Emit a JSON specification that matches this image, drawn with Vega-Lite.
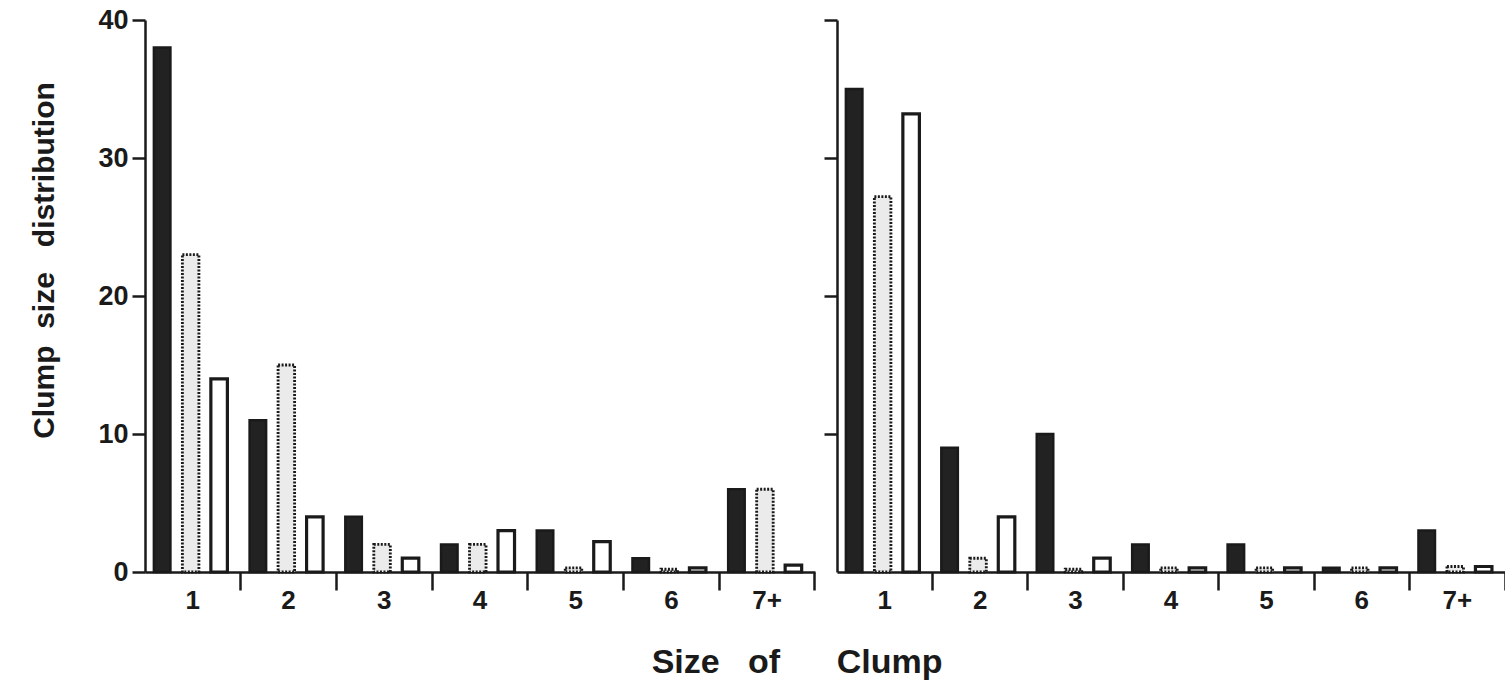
{
  "$schema": "https://vega.github.io/schema/vega-lite/v6.json",
  "background": "white",
  "padding": {"left": 29, "top": 6, "right": 0, "bottom": 2},
  "datasets": {
    "bars": [
      {"panel": "L", "size": "1", "series": "A", "value": 38},
      {"panel": "L", "size": "1", "series": "B", "value": 23},
      {"panel": "L", "size": "1", "series": "C", "value": 14},
      {"panel": "L", "size": "2", "series": "A", "value": 11},
      {"panel": "L", "size": "2", "series": "B", "value": 15},
      {"panel": "L", "size": "2", "series": "C", "value": 4},
      {"panel": "L", "size": "3", "series": "A", "value": 4},
      {"panel": "L", "size": "3", "series": "B", "value": 2},
      {"panel": "L", "size": "3", "series": "C", "value": 1},
      {"panel": "L", "size": "4", "series": "A", "value": 2},
      {"panel": "L", "size": "4", "series": "B", "value": 2},
      {"panel": "L", "size": "4", "series": "C", "value": 3},
      {"panel": "L", "size": "5", "series": "A", "value": 3},
      {"panel": "L", "size": "5", "series": "B", "value": 0.3},
      {"panel": "L", "size": "5", "series": "C", "value": 2.2},
      {"panel": "L", "size": "6", "series": "A", "value": 1},
      {"panel": "L", "size": "6", "series": "B", "value": 0.2},
      {"panel": "L", "size": "6", "series": "C", "value": 0.3},
      {"panel": "L", "size": "7+", "series": "A", "value": 6},
      {"panel": "L", "size": "7+", "series": "B", "value": 6},
      {"panel": "L", "size": "7+", "series": "C", "value": 0.5},
      {"panel": "R", "size": "1", "series": "A", "value": 35},
      {"panel": "R", "size": "1", "series": "B", "value": 27.2},
      {"panel": "R", "size": "1", "series": "C", "value": 33.2},
      {"panel": "R", "size": "2", "series": "A", "value": 9},
      {"panel": "R", "size": "2", "series": "B", "value": 1},
      {"panel": "R", "size": "2", "series": "C", "value": 4},
      {"panel": "R", "size": "3", "series": "A", "value": 10},
      {"panel": "R", "size": "3", "series": "B", "value": 0.2},
      {"panel": "R", "size": "3", "series": "C", "value": 1},
      {"panel": "R", "size": "4", "series": "A", "value": 2},
      {"panel": "R", "size": "4", "series": "B", "value": 0.3},
      {"panel": "R", "size": "4", "series": "C", "value": 0.3},
      {"panel": "R", "size": "5", "series": "A", "value": 2},
      {"panel": "R", "size": "5", "series": "B", "value": 0.3},
      {"panel": "R", "size": "5", "series": "C", "value": 0.3},
      {"panel": "R", "size": "6", "series": "A", "value": 0.3},
      {"panel": "R", "size": "6", "series": "B", "value": 0.3},
      {"panel": "R", "size": "6", "series": "C", "value": 0.3},
      {"panel": "R", "size": "7+", "series": "A", "value": 3},
      {"panel": "R", "size": "7+", "series": "B", "value": 0.4},
      {"panel": "R", "size": "7+", "series": "C", "value": 0.4}
    ]
  },
  "data": {"name": "bars"},
  "title": {
    "text": "Size\u00a0\u00a0\u00a0of\u00a0\u00a0\u00a0\u00a0\u00a0\u00a0Clump",
    "orient": "bottom",
    "anchor": "middle",
    "dx": 29,
    "offset": 33,
    "font": "Liberation Sans",
    "fontSize": 34,
    "fontWeight": "bold",
    "color": "#1a1a1a"
  },
  "spacing": 6,
  "hconcat": [
    {
      "width": 670,
      "height": 552,
      "transform": [{"filter": "datum.panel === 'L'"}],
      "mark": {"type": "bar", "stroke": "#1a1a1a", "strokeJoin": "miter"},
      "encoding": {
        "x": {
          "field": "size", "type": "nominal", "sort": ["1", "2", "3", "4", "5", "6", "7+"],
          "scale": {"paddingInner": 0, "paddingOuter": 0},
          "axis": {
            "title": null, "labelAngle": 0, "bandPosition": 1, "labelOffset": 0,
            "tickSize": 18, "tickWidth": 2.5, "tickColor": "#1a1a1a",
            "domainWidth": 2.5, "domainColor": "#1a1a1a",
            "labelPadding": -3, "labelFont": "Liberation Sans", "labelFontSize": 26,
            "labelFontWeight": "bold", "labelColor": "#1a1a1a"
          }
        },
        "xOffset": {
          "field": "series", "type": "nominal",
          "scale": {"paddingInner": 0.42, "paddingOuter": 0.39, "align": 0.4}
        },
        "y": {
          "field": "value", "type": "quantitative",
          "scale": {"domain": [0, 40], "nice": false},
          "axis": {
            "title": "Clump\u00a0\u00a0size\u00a0\u00a0\u00a0distribution",
            "values": [0, 10, 20, 30, 40], "grid": false,
            "tickSize": 13, "tickWidth": 2.5, "tickColor": "#1a1a1a",
            "domainWidth": 2.5, "domainColor": "#1a1a1a",
            "labelPadding": 4, "labelFont": "Liberation Sans", "labelFontSize": 27,
            "labelFontWeight": "bold", "labelColor": "#1a1a1a",
            "titleFont": "Liberation Sans", "titleFontSize": 30, "titleFontWeight": "bold",
            "titleColor": "#1a1a1a", "titlePadding": 38, "titleY": 240
          }
        },
        "fill": {
          "field": "series", "type": "nominal", "legend": null,
          "scale": {"domain": ["A", "B", "C"], "range": ["#222222", "#ebebeb", "#ffffff"]}
        },
        "strokeDash": {
          "field": "series", "type": "nominal", "legend": null,
          "scale": {"domain": ["A", "B", "C"], "range": [[1, 0], [2, 1.5], [1, 0]]}
        },
        "strokeWidth": {
          "field": "series", "type": "nominal", "legend": null,
          "scale": {"domain": ["A", "B", "C"], "range": [2.5, 3.2, 2.5]}
        }
      }
    },
    {
      "width": 668,
      "height": 552,
      "transform": [{"filter": "datum.panel === 'R'"}],
      "mark": {"type": "bar", "stroke": "#1a1a1a", "strokeJoin": "miter"},
      "encoding": {
        "x": {
          "field": "size", "type": "nominal", "sort": ["1", "2", "3", "4", "5", "6", "7+"],
          "scale": {"paddingInner": 0, "paddingOuter": 0},
          "axis": {
            "title": null, "labelAngle": 0, "bandPosition": 1, "labelOffset": 0,
            "tickSize": 18, "tickWidth": 2.5, "tickColor": "#1a1a1a",
            "domainWidth": 2.5, "domainColor": "#1a1a1a",
            "labelPadding": -3, "labelFont": "Liberation Sans", "labelFontSize": 26,
            "labelFontWeight": "bold", "labelColor": "#1a1a1a"
          }
        },
        "xOffset": {
          "field": "series", "type": "nominal",
          "scale": {"paddingInner": 0.42, "paddingOuter": 0.39, "align": 0.4}
        },
        "y": {
          "field": "value", "type": "quantitative",
          "scale": {"domain": [0, 40], "nice": false},
          "axis": {
            "title": null, "labels": false,
            "values": [10, 20, 30, 40], "grid": false,
            "tickSize": 13, "tickWidth": 2.5, "tickColor": "#1a1a1a",
            "domainWidth": 2.5, "domainColor": "#1a1a1a"
          }
        },
        "fill": {
          "field": "series", "type": "nominal", "legend": null,
          "scale": {"domain": ["A", "B", "C"], "range": ["#222222", "#ebebeb", "#ffffff"]}
        },
        "strokeDash": {
          "field": "series", "type": "nominal", "legend": null,
          "scale": {"domain": ["A", "B", "C"], "range": [[1, 0], [2, 1.5], [1, 0]]}
        },
        "strokeWidth": {
          "field": "series", "type": "nominal", "legend": null,
          "scale": {"domain": ["A", "B", "C"], "range": [2.5, 3.2, 2.5]}
        }
      }
    }
  ],
  "resolve": {"scale": {"fill": "shared", "strokeDash": "shared", "strokeWidth": "shared"}},
  "config": {
    "view": {"stroke": null},
    "font": "Liberation Sans"
  }
}
